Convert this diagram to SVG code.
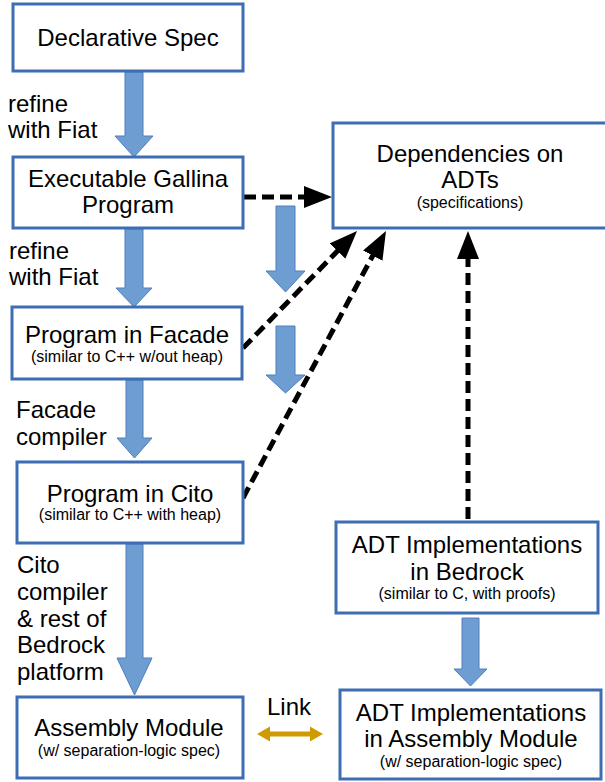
<svg xmlns="http://www.w3.org/2000/svg" width="605" height="782" viewBox="0 0 605 782">
<style>
.box{fill:#fff;stroke:#3D6DB3;stroke-width:3}
.t{font-family:"Liberation Sans",Arial,sans-serif;font-size:24px;fill:#000}
.s{font-family:"Liberation Sans",Arial,sans-serif;font-size:16px;fill:#000}
.m{text-anchor:middle}
.blue{fill:#6E9DD1;stroke:#4E7FBE;stroke-width:1}
.dash{stroke:#000;stroke-width:5;stroke-dasharray:12 6;fill:none}
.gold{fill:#D09B00}
</style>
<defs>
<marker id="ah" markerUnits="userSpaceOnUse" markerWidth="30" markerHeight="22" refX="2" refY="11" orient="auto">
<path d="M0,0 L28,11 L0,22 z" fill="#000"/>
</marker>
</defs>
<rect x="0" y="0" width="605" height="782" fill="#fff"/>

<g id="connectors">
<polygon class="blue" points="125,72 143,72 143,136 153,136 134,157 115,136 125,136"/>
<polygon class="blue" points="125,229 143,229 143,288 152,288 134,307 116,288 125,288"/>
<polygon class="blue" points="126,380 143,380 143,438 152,438 134.5,458 117,438 126,438"/>
<polygon class="blue" points="126,544 143,544 143,658 152,658 134.5,695 117,658 126,658"/>
<polygon class="blue" points="276,206 295,206 295,271 305,271 285.5,292 266,271 276,271"/>
<polygon class="blue" points="276,326 295,326 295,375 305,375 285.5,393 266,375 276,375"/>
<polygon class="blue" points="462,618 479,618 479,669 487,669 470.5,686 454,669 462,669"/>
<line class="dash" x1="244" y1="197" x2="306" y2="197" marker-end="url(#ah)"/>
<line class="dash" x1="243" y1="348" x2="338.9" y2="249.6" marker-end="url(#ah)"/>
<line class="dash" x1="243" y1="498" x2="373.7" y2="253.9" marker-end="url(#ah)"/>
<line class="dash" x1="468" y1="519" x2="468" y2="257" marker-end="url(#ah)"/>
<polygon class="gold" points="257,734 270,726.5 270,731.5 310,731.5 310,726.5 323,734 310,741.5 310,736.5 270,736.5 270,741.5"/>
</g>

<g id="labels">
<text class="t" x="8" y="112">refine</text>
<text class="t" x="8" y="138">with Fiat</text>
<text class="t" x="9" y="259">refine</text>
<text class="t" x="9" y="285">with Fiat</text>
<text class="t" x="16" y="418">Facade</text>
<text class="t" x="16" y="445">compiler</text>
<text class="t" x="17" y="573">Cito</text>
<text class="t" x="17" y="600">compiler</text>
<text class="t" x="17" y="627">&amp; rest of</text>
<text class="t" x="17" y="653">Bedrock</text>
<text class="t" x="17" y="680">platform</text>
<text class="t" x="267" y="715">Link</text>
</g>

<g id="declarative-spec">
<rect class="box" x="13" y="4" width="230" height="67"/>
<text class="t m" x="128" y="46">Declarative Spec</text>
</g>
<g id="gallina">
<rect class="box" x="13" y="157" width="230" height="71"/>
<text class="t m" x="128" y="187">Executable Gallina</text>
<text class="t m" x="128" y="213">Program</text>
</g>
<g id="facade">
<rect class="box" x="12" y="307" width="230" height="72"/>
<text class="t m" x="127" y="343">Program in Facade</text>
<text class="s m" x="127" y="362">(similar to C++ w/out heap)</text>
</g>
<g id="cito">
<rect class="box" x="17" y="462" width="226" height="81"/>
<text class="t m" x="130" y="502">Program in Cito</text>
<text class="s m" x="130" y="520">(similar to C++ with heap)</text>
</g>
<g id="assembly">
<rect class="box" x="17" y="697" width="226" height="81"/>
<text class="t m" x="129" y="736">Assembly Module</text>
<text class="s m" x="129" y="756">(w/ separation-logic spec)</text>
</g>
<g id="dependencies">
<rect class="box" x="333" y="123" width="280" height="105"/>
<text class="t m" x="470" y="162">Dependencies on</text>
<text class="t m" x="470" y="188">ADTs</text>
<text class="s m" x="470" y="208">(specifications)</text>
</g>
<g id="adt-bedrock">
<rect class="box" x="336" y="522" width="262" height="91"/>
<text class="t m" x="467" y="553">ADT Implementations</text>
<text class="t m" x="467" y="580">in Bedrock</text>
<text class="s m" x="467" y="599">(similar to C, with proofs)</text>
</g>
<g id="adt-assembly">
<rect class="box" x="340" y="690" width="261" height="89"/>
<text class="t m" x="471" y="721">ADT Implementations</text>
<text class="t m" x="471" y="747">in Assembly Module</text>
<text class="s m" x="471" y="767">(w/ separation-logic spec)</text>
</g>
</svg>
